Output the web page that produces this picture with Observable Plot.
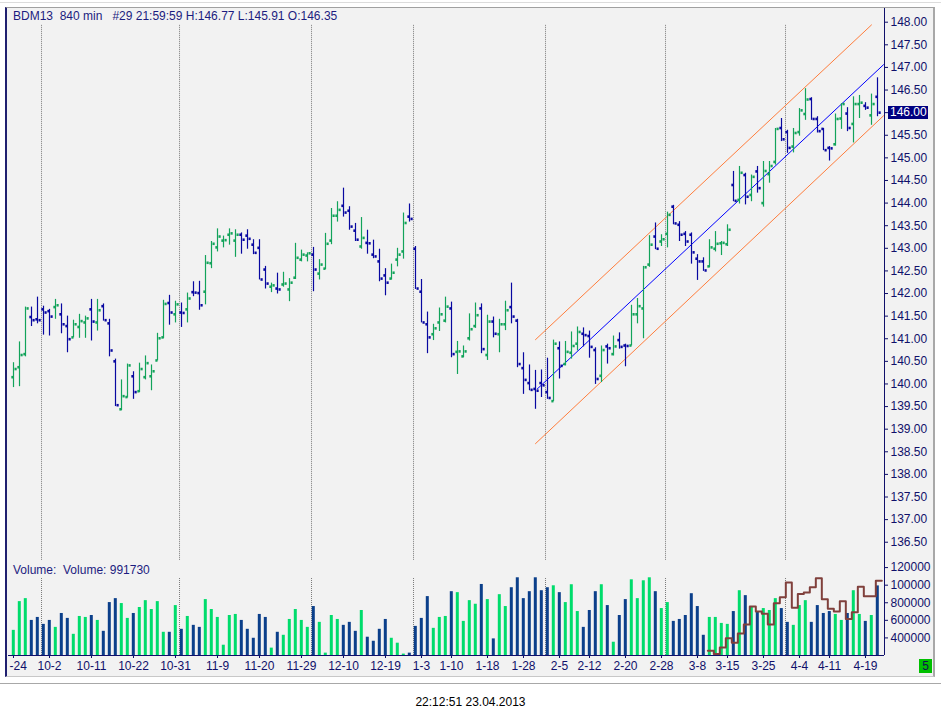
<!DOCTYPE html>
<html><head><meta charset="utf-8">
<script src="https://cdn.jsdelivr.net/npm/d3@7"></script>
<script src="https://cdn.jsdelivr.net/npm/@observablehq/plot@0.6"></script>
<style>
html,body{margin:0;padding:0;background:#fff;}
#page{position:relative;width:941px;height:718px;overflow:hidden;font-family:"Liberation Sans",Arial,sans-serif;}
.abs{position:absolute;}
</style></head><body>
<div id="page">
  <div class="abs" style="left:0;top:2px;width:941px;height:1px;background:#dcdcdc"></div>
  <div class="abs" style="left:5px;top:7px;width:926px;height:668px;background:#f2f2f2;border-top:1px solid #a0a0a0;border-right:2px solid #a8a8a8;border-left:2px solid #1f1f6f;border-bottom:1px solid #c8c8c8"></div>
  <div class="abs" style="left:0;top:683px;width:941px;height:1px;background:#a8a8a8"></div>
  <div id="price" class="abs" style="left:8px;top:8px;width:928px"></div>
  <div id="vol" class="abs" style="left:8px;top:560px;width:928px"></div>
  <div id="header" class="abs" style="left:13px;top:10px;font-size:12px;line-height:12px;color:#1c1c80;white-space:pre"></div>
  <div id="vlabel" class="abs" style="left:13px;top:564px;font-size:12px;line-height:12px;color:#1c1c80;white-space:pre"></div>
  <div id="hl" class="abs" style="left:888px;width:38px;height:13px;background:#000080;color:#fff;font-size:12px;line-height:13px;padding-left:2px"></div>
  <div id="gbox" class="abs" style="left:919px;top:659px;width:13px;height:14px;background:#00c000;color:#101050;font-size:12px;line-height:14px;text-align:center">5</div>
  <div id="date" class="abs" style="left:0;top:696px;width:941px;text-align:center;font-size:12px;line-height:12px;color:#000"></div>
</div>
<script>
// ---------- data ----------
const headerText = "BDM13  840 min   #29 21:59:59 H:146.77 L:145.91 O:146.35";
const volumeText = "Volume:  Volume: 991730";
const dateText = "22:12:51 23.04.2013";

const open = [140.15,140.37,140.66,141.48,141.43,141.65,141.61,141.70,141.54,141.28,
141.03,141.26,141.36,141.65,141.36,141.72,141.34,140.50,139.44,139.71,
140.17,139.84,140.15,140.17,140.52,141.03,141.79,141.54,141.58,141.65,
142.03,142.01,142.04,142.67,143.02,143.17,143.30,143.17,143.30,143.28,
143.08,143.01,142.53,142.15,142.11,142.20,142.09,142.35,142.75,142.84,
142.86,142.44,142.55,143.17,143.72,143.94,143.83,143.39,143.04,143.12,
142.86,142.71,142.40,142.33,142.75,142.93,143.70,142.99,142.04,141.32,
141.10,141.36,141.40,141.67,140.71,140.61,141.01,141.28,141.67,140.64,
141.38,141.10,141.32,141.70,141.40,140.35,140.02,139.89,140.02,139.82,
139.62,140.79,140.44,140.69,140.89,141.11,141.06,140.75,140.18,140.83,
140.66,140.97,140.85,140.85,141.54,141.67,142.64,143.26,143.15,143.32,
143.92,143.52,143.32,143.30,142.77,142.71,142.60,142.99,143.11,143.09,
144.40,144.07,144.62,144.18,144.70,144.00,144.64,144.91,145.66,145.57,
145.25,145.57,145.97,146.30,145.86,145.64,145.22,145.30,145.87,145.98,
145.75,146.19,146.15,145.94,146.35];
const high = [140.47,140.93,141.70,141.70,141.92,141.72,141.65,141.87,141.77,141.50,
141.41,141.54,141.50,141.87,141.87,141.77,141.43,140.55,140.09,140.44,
140.27,140.46,140.62,140.42,141.12,141.85,141.96,141.83,141.79,142.01,
142.26,142.27,142.84,143.15,143.43,143.27,143.43,143.41,143.34,143.41,
143.19,143.19,142.60,142.23,142.45,142.47,142.33,143.11,142.96,142.90,
143.02,142.75,143.33,143.88,144.03,144.33,143.92,143.55,143.68,143.40,
143.18,142.98,142.55,142.65,143.00,143.78,143.98,143.04,142.31,141.59,
141.32,141.68,141.92,141.81,140.94,140.84,141.55,141.79,141.77,141.52,
141.48,141.43,141.83,142.23,141.43,140.69,140.42,140.30,140.31,140.57,
140.97,140.93,140.94,141.15,141.26,141.24,141.17,140.80,140.84,140.88,
141.06,141.13,140.88,141.74,141.89,142.60,143.28,143.56,143.30,143.80,
143.95,143.59,143.37,143.34,142.86,142.79,143.19,143.37,143.15,143.52,
144.70,144.81,144.66,144.62,144.81,144.92,144.92,145.65,145.87,145.61,
145.65,146.09,146.53,146.33,145.91,145.65,145.25,145.97,146.20,146.11,
146.35,146.38,146.22,146.41,146.77];
const low = [139.92,139.94,140.60,141.27,141.33,141.08,141.06,141.43,141.11,140.69,
141.02,141.01,141.01,140.95,141.17,141.39,140.60,139.50,139.41,139.69,
139.66,139.81,140.09,139.85,140.51,141.00,141.30,141.35,141.25,141.35,
141.93,141.63,141.75,142.55,142.92,143.01,143.07,142.80,142.87,142.98,
142.86,142.30,142.10,142.02,141.99,142.14,141.82,142.31,142.70,142.70,
142.04,142.30,142.53,143.08,143.58,143.69,143.40,143.15,142.98,142.87,
142.77,142.26,141.95,142.30,142.59,142.76,143.58,142.09,141.35,140.67,
140.96,141.16,141.35,140.58,140.21,140.58,140.95,141.23,140.67,140.52,
141.02,140.69,141.18,141.33,140.36,139.77,139.85,139.44,139.70,139.66,
139.61,140.11,140.40,140.55,140.73,140.82,140.57,139.99,140.03,140.44,
140.62,140.77,140.38,140.84,141.33,141.00,142.58,142.97,143.04,143.01,
143.52,143.15,143.04,142.65,142.29,142.49,142.57,142.92,142.84,143.04,
144.03,143.98,143.96,144.03,144.22,143.91,144.44,144.84,145.36,145.10,
145.11,145.48,145.83,145.83,145.55,145.16,144.93,145.26,145.63,145.58,
145.33,145.87,146.05,145.72,145.91];
const close = [140.33,140.64,141.67,141.41,141.41,141.58,141.49,141.74,141.32,140.99,
141.32,141.39,141.45,141.38,141.63,141.41,140.74,139.53,139.73,140.41,
139.82,140.33,140.46,140.28,141.01,141.77,141.58,141.76,141.57,141.89,
142.02,141.74,142.68,143.10,143.26,143.18,143.33,143.30,143.19,143.21,
142.90,142.31,142.22,142.18,142.09,142.22,142.24,142.79,142.86,142.89,
142.53,142.64,143.10,143.72,143.85,143.79,143.48,143.19,143.23,143.11,
142.82,142.33,142.24,142.46,142.86,143.56,143.65,142.11,141.36,141.03,
141.23,141.54,141.71,140.66,140.72,140.72,141.21,141.52,140.77,141.38,
141.11,141.32,141.63,141.49,140.44,140.09,139.87,139.85,139.97,139.69,
140.89,140.40,140.71,140.84,141.15,141.08,140.82,140.11,140.75,140.79,
140.83,140.82,140.84,141.54,141.72,142.58,143.08,142.99,143.20,143.74,
143.55,143.30,143.15,142.91,142.71,142.51,143.02,143.10,143.12,143.41,
144.05,144.67,144.14,144.58,144.33,144.71,144.82,145.64,145.41,145.22,
145.55,146.05,146.29,145.86,145.59,145.17,145.21,145.86,146.19,145.66,
146.19,146.22,146.11,146.19,146.00];
// volume in thousands
const volumeK = [486,813,847,599,633,554,599,520,678,622,
441,644,633,655,599,475,802,847,791,622,
678,746,824,723,813,464,464,768,498,644,
543,520,836,723,633,317,655,667,599,498,
396,667,633,284,464,430,610,723,599,520,
757,577,227,655,610,543,577,475,712,408,
362,498,610,396,340,216,227,531,622,870,
509,633,644,926,915,588,824,783,1008,836,
389,892,757,971,1084,847,926,1084,937,971,
993,915,802,1005,700,520,712,926,1005,768,
351,655,836,1061,847,1050,1084,926,734,802,
588,610,655,903,757,430,633,633,565,554,
700,937,881,746,700,734,712,847,734,577,
543,768,824,577,768,678,700,667,599,678,
937,667,588,655,991.73];
// volume moving average (thousands), starting at bar maStart
const maStart = 116;
const maK = [254,216,291,396,344,449,554,757,700,674,554,794,862,1031,742,900,918,975,1080,839,731,700,817,614,693,982,873,873,1050];

// x axis (the first label is shown cut by the left edge in the source: "-24")
const xTickIdx = [0,6,13,20,27,34,41,48,55,62,68,73,79,85,91,96,102,108,114,119,125,131,136,142];
const xTickLabels = ["-24","10-2","10-11","10-22","10-31","11-9","11-20","11-29","12-10","12-19","1-3","1-10","1-18","1-28","2-5","2-12","2-20","2-28","3-8","3-15","3-25","4-4","4-11","4-19"];
const monthBreaks = [4.67,27.67,49.67,66.67,88.67,108.67,128.67];

// regression channel (bar index, price)
const upperIdx = [87, 143], upperVal = [140.98, 147.94];
const midIdx = [87.3, 145], midVal = [139.89, 147.06];
const lowerIdx = [87, 145], lowerVal = [138.68, 145.93];

// axes
const priceTicks = d3.range(0, 24).map(k => 136.5 + k * 0.5);
const volTickValues = [1200000, 1000000, 800000, 600000, 400000];
const volTickLabels = ["120000", "100000", "800000", "600000", "400000"];

// ---------- styles ----------
const axisNavy = "#10106a";
const upPrice = "#12a35a", downPrice = "#0808a0";
const upVol = "#00dc6c", downVol = "#0b3f8a";
const orange = "#ff7d3c", blue = "#0000ff", brown = "#80403c", gridGray = "#7a7a7a";
const W = 928;
const xDomain = [-0.8333, 145.1667];
const font = "'Liberation Sans', Arial, sans-serif";

const bars = open.map((o, i) => ({i, open: o, high: high[i], low: low[i], close: close[i], volume: volumeK[i] * 1000}));
const isUp = d => d.close > d.open;
const barColor = d => isUp(d) ? upPrice : downPrice;
const pts = (xs, ys) => xs.map((x, k) => ({x, y: ys[k]}));

const price = Plot.plot({
  width: W, height: 552, marginLeft: 0, marginRight: 52, marginTop: 0, marginBottom: 0,
  style: {background: "transparent", color: axisNavy, fontFamily: font, fontSize: "12px", overflow: "visible"},
  x: {domain: xDomain, axis: null},
  y: {domain: [136.096, 148.303], axis: null},
  color: {type: "identity"},
  marks: [
    Plot.ruleX(monthBreaks, {x: d => d, y1: 136.1, y2: 147.93, stroke: gridGray, strokeDasharray: "1,1"}),
    Plot.line(pts(upperIdx, upperVal), {x: "x", y: "y", stroke: orange, strokeWidth: 1}),
    Plot.line(pts(lowerIdx, lowerVal), {x: "x", y: "y", stroke: orange, strokeWidth: 1}),
    Plot.line(pts(midIdx, midVal), {x: "x", y: "y", stroke: blue, strokeWidth: 1}),
    Plot.ruleX(bars, {x: "i", y1: "low", y2: "high", stroke: barColor, strokeWidth: 1.2}),
    Plot.link(bars, {x1: d => d.i - 0.36, x2: d => d.i, y1: "open", y2: "open", stroke: barColor, strokeWidth: 2.6}),
    Plot.link(bars, {x1: d => d.i + 1/6, x2: d => d.i + 0.53, y1: "close", y2: "close", stroke: barColor, strokeWidth: 2.6}),
    Plot.ruleX([xDomain[1]], {stroke: axisNavy, strokeWidth: 1}),
    Plot.axisY({anchor: "right", ticks: priceTicks, tickFormat: d => d.toFixed(2), tickSize: 3, tickPadding: 3, label: null})
  ]
});
document.getElementById("price").appendChild(price);

const maPts = maK.map((v, k) => ({x: maStart + k - 0.28, y: v * 1000}));
maPts.push({x: maStart + maK.length - 1 + 0.72, y: maK[maK.length - 1] * 1000});

const vol = Plot.plot({
  width: W, height: 116, marginLeft: 0, marginRight: 52, marginTop: 0, marginBottom: 21,
  style: {background: "transparent", color: axisNavy, fontFamily: font, fontSize: "12px", overflow: "visible"},
  x: {domain: xDomain},
  y: {domain: [200000, 1280682]},
  color: {type: "identity"},
  marks: [
    Plot.ruleX(monthBreaks, {x: d => d, y1: 200000, y2: 1076000, stroke: gridGray, strokeDasharray: "1,1"}),
    Plot.rect(bars, {x1: d => d.i - 0.2, x2: d => d.i + 0.3, y1: 200000, y2: "volume", fill: d => isUp(d) ? upVol : downVol}),
    Plot.line(maPts, {x: "x", y: "y", curve: "step-after", stroke: brown, strokeWidth: 2}),
    Plot.ruleY([200000], {stroke: axisNavy}),
    Plot.ruleX([xDomain[1]], {stroke: axisNavy}),
    Plot.axisY({anchor: "right", ticks: volTickValues, tickFormat: d => volTickLabels[volTickValues.indexOf(d)], tickSize: 3, tickPadding: 3, label: null}),
    // ticks with labels (first label drawn separately, left-aligned, as in the source)
    Plot.axisX({anchor: "bottom", ticks: xTickIdx, tickFormat: d => d === xTickIdx[0] ? "" : xTickLabels[xTickIdx.indexOf(d)], tickSize: 3, tickPadding: 3, label: null}),
    Plot.text([xTickIdx[0]], {x: d => d, y: 200000, text: () => xTickLabels[0], textAnchor: "start", lineAnchor: "top", dx: -4, dy: 6, fill: axisNavy})
  ]
});
document.getElementById("vol").appendChild(vol);

document.getElementById("header").textContent = headerText;
document.getElementById("vlabel").textContent = volumeText;
document.getElementById("date").textContent = dateText;

const lastClose = close[close.length - 1];
const hl = document.getElementById("hl");
hl.textContent = lastClose.toFixed(2);
hl.style.top = (8 + price.scale("y").apply(lastClose) - 6.5) + "px";
</script>
</body></html>
